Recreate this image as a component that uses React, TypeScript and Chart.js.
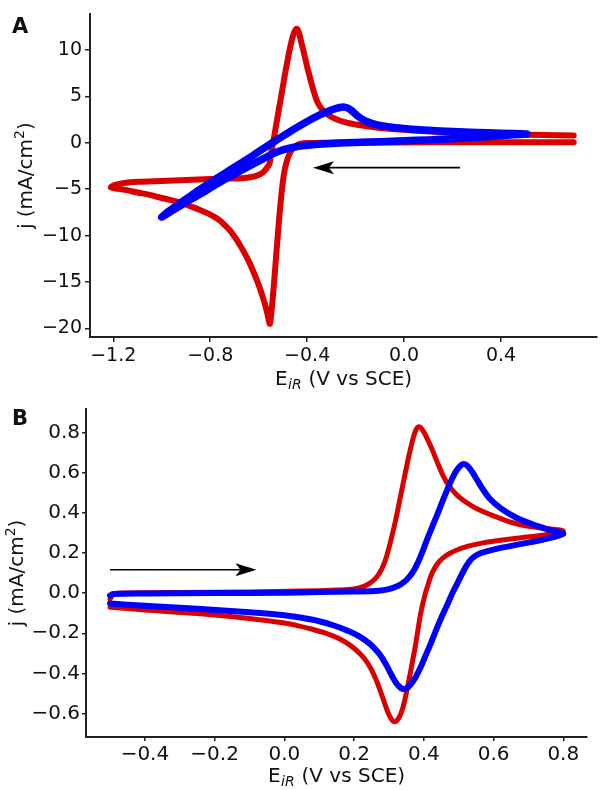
import React, { useEffect, useRef } from "react";
import { Chart, registerables } from "chart.js";

Chart.register(...registerables);

const FONT = '"DejaVu Sans", "Liberation Sans", sans-serif';
const RED = "rgb(218,0,0)";
const BLUE = "rgb(0,0,255)";
const INK = "#111";

// ---------------- Panel A data ----------------
const aRedE = [
  0.70, 0.55, 0.40, 0.20, 0.00, -0.20, -0.33, -0.40, -0.43, -0.445,
  -0.460, -0.472, -0.482, -0.490, -0.497, -0.503, -0.509, -0.515, -0.521, -0.527,
  -0.533, -0.539, -0.545, -0.550, -0.554, -0.558, -0.565, -0.575, -0.587, -0.600,
  -0.620, -0.640, -0.660, -0.680, -0.700, -0.720, -0.750, -0.775, -0.810, -0.845,
  -0.885, -0.925, -0.990, -1.050, -1.100, -1.145, -1.180, -1.210,
  -1.195, -1.160, -1.100, -1.000, -0.900, -0.800, -0.720, -0.650, -0.610, -0.583,
  -0.566, -0.556, -0.548, -0.540, -0.530, -0.520, -0.510, -0.500, -0.490, -0.480,
  -0.470, -0.460, -0.452, -0.445, -0.438, -0.431, -0.424, -0.416, -0.408, -0.399,
  -0.390, -0.380, -0.370, -0.360, -0.348, -0.330, -0.310, -0.280, -0.240, -0.200,
  -0.158, -0.100, 0.000, 0.107, 0.250, 0.450, 0.700,
];
const aRedJ = [
  0.07, 0.07, 0.06, 0.06, 0.05, 0.04, 0.02, -0.02, -0.12, -0.3,
  -0.65, -1.15, -1.8, -2.6, -3.6, -4.8, -6.3, -8.0, -9.9, -11.9,
  -13.9, -15.8, -17.6, -18.9, -19.5, -19.2, -18.3, -17.3, -16.3, -15.3,
  -14.0, -12.8, -11.8, -10.9, -10.1, -9.4, -8.6, -8.1, -7.6, -7.2,
  -6.8, -6.4, -6.0, -5.6, -5.35, -5.1, -4.95, -4.8,
  -4.55, -4.35, -4.2, -4.1, -4.0, -3.9, -3.85, -3.75, -3.55, -3.2,
  -2.7, -2.3, -1.1, 0.1, 1.6, 3.1, 4.6, 6.1, 7.6, 9.0,
  10.3, 11.4, 12.0, 12.3, 12.15, 11.6, 10.8, 10.0, 9.1, 8.1,
  7.2, 6.2, 5.3, 4.55, 3.95, 3.35, 2.95, 2.55, 2.2, 1.98,
  1.8, 1.6, 1.4, 1.23, 1.05, 0.9, 0.8,
];
const aBlueE = [
  0.506, 0.45, 0.38, 0.30, 0.20, 0.10, 0.00, -0.10, -0.20, -0.28,
  -0.35, -0.41, -0.46, -0.50, -0.54, -0.58, -0.62, -0.67, -0.72, -0.78,
  -0.84, -0.90, -0.95, -1.00,
  -0.97, -0.93, -0.88, -0.83, -0.78, -0.72, -0.65, -0.583, -0.52, -0.46,
  -0.40, -0.35, -0.31, -0.28, -0.26, -0.245, -0.232, -0.22, -0.207, -0.192,
  -0.175, -0.155, -0.13, -0.10, -0.05, 0.02, 0.10, 0.20, 0.30, 0.40,
  0.506,
];
const aBlueJ = [
  0.95, 0.86, 0.74, 0.6, 0.45, 0.32, 0.22, 0.13, 0.04, -0.05,
  -0.16, -0.3, -0.5, -0.75, -1.15, -1.7, -2.25, -2.95, -3.65, -4.55,
  -5.5, -6.4, -7.2, -8.0,
  -7.35, -6.6, -5.7, -4.8, -3.95, -2.95, -1.8, -0.65, 0.4, 1.38,
  2.3, 2.98, 3.43, 3.71, 3.83, 3.85, 3.75, 3.55, 3.25, 2.9,
  2.58, 2.3, 2.07, 1.88, 1.68, 1.5, 1.35, 1.22, 1.12, 1.04,
  0.95,
];
const aXTicks = [-1.2, -0.8, -0.4, 0.0, 0.4];
const aYTicks = [-20, -15, -10, -5, 0, 5, 10];
const aArrowE = [0.231, -0.376];
const aArrowJ = [-2.67, -2.67];

// ---------------- Panel B data ----------------
const bRedE = [
  -0.50, -0.49, -0.45, -0.30, -0.10, 0.05, 0.15, 0.20, 0.23, 0.25,
  0.265, 0.278, 0.290, 0.300, 0.310, 0.320, 0.330, 0.340, 0.350, 0.360,
  0.370, 0.378, 0.385, 0.393, 0.402, 0.412, 0.425, 0.440, 0.455, 0.470,
  0.490, 0.510, 0.535, 0.560, 0.600, 0.655, 0.720, 0.800,
  0.740, 0.680, 0.620, 0.570, 0.530, 0.500, 0.475, 0.455, 0.440, 0.428,
  0.418, 0.410, 0.403, 0.396, 0.389, 0.382, 0.375, 0.368, 0.361, 0.354,
  0.347, 0.339, 0.331, 0.323, 0.316, 0.309, 0.300, 0.290, 0.278, 0.264,
  0.248, 0.230, 0.210, 0.185, 0.155, 0.120, 0.080, 0.040, 0.000, -0.10,
  -0.25, -0.40, -0.50,
];
const bRedJ = [
  -0.03, -0.005, 0.0, 0.003, 0.006, 0.01, 0.015, 0.02, 0.035, 0.055,
  0.08, 0.115, 0.165, 0.225, 0.295, 0.37, 0.455, 0.54, 0.625, 0.705,
  0.775, 0.815, 0.828, 0.82, 0.795, 0.76, 0.71, 0.645, 0.585, 0.54,
  0.497, 0.466, 0.437, 0.413, 0.384, 0.35, 0.327, 0.31,
  0.288, 0.276, 0.263, 0.25, 0.235, 0.218, 0.198, 0.175, 0.148, 0.115,
  0.075, 0.03, -0.01, -0.06, -0.12, -0.195, -0.27, -0.335, -0.40, -0.46,
  -0.52, -0.575, -0.612, -0.634, -0.64, -0.632, -0.605, -0.56, -0.5, -0.435,
  -0.375, -0.327, -0.29, -0.255, -0.225, -0.2, -0.18, -0.163, -0.149, -0.126,
  -0.102, -0.084, -0.07,
];
const bBlueE = [
  -0.50, -0.49, -0.40, -0.20, 0.00, 0.10, 0.20, 0.27, 0.30, 0.325,
  0.345, 0.360, 0.373, 0.385, 0.397, 0.410, 0.424, 0.438, 0.452, 0.466,
  0.480, 0.493, 0.505, 0.515, 0.526, 0.538, 0.552, 0.568, 0.590, 0.620,
  0.660, 0.710, 0.760, 0.800,
  0.740, 0.680, 0.620, 0.580, 0.555, 0.537, 0.522, 0.508, 0.495, 0.482,
  0.468, 0.452, 0.436, 0.420, 0.404, 0.390, 0.376, 0.362, 0.350, 0.340,
  0.330, 0.318, 0.305, 0.290, 0.270, 0.245, 0.215, 0.180, 0.140, 0.100,
  0.050, 0.000, -0.10, -0.25, -0.40, -0.50,
];
const bBlueJ = [
  -0.012, -0.005, -0.002, 0.0, 0.002, 0.005, 0.008, 0.012, 0.02, 0.035,
  0.058, 0.085, 0.118, 0.16, 0.21, 0.27, 0.33, 0.388, 0.45, 0.51,
  0.565, 0.608, 0.634, 0.642, 0.632, 0.605, 0.565, 0.52, 0.468, 0.423,
  0.38, 0.343, 0.315, 0.295,
  0.265, 0.245, 0.225, 0.208, 0.193, 0.17, 0.135, 0.09, 0.045, 0.0,
  -0.055, -0.115, -0.18, -0.25, -0.315, -0.372, -0.42, -0.455, -0.474, -0.477,
  -0.466, -0.44, -0.4, -0.35, -0.298, -0.252, -0.215, -0.186, -0.16, -0.14,
  -0.123, -0.11, -0.095, -0.078, -0.063, -0.052,
];
const bXTicks = [-0.4, -0.2, 0.0, 0.2, 0.4, 0.6, 0.8];
const bYTicks = [-0.6, -0.4, -0.2, 0.0, 0.2, 0.4, 0.6, 0.8];
const bArrowE = [-0.5, -0.08];
const bArrowJ = [0.116, 0.116];

// ---------------- helpers ----------------
const pts = (E: number[], J: number[]) => E.map((e, i) => ({ x: e, y: J[i] }));
const fmt = (d: number) => (v: any) => {
  const s = Number(v).toFixed(d);
  return s.startsWith("-") ? "\u2212" + s.slice(1) : s;
};

type PanelCfg = {
  letter: string;
  letterX: number;
  letterY: number;
  height: number;
  padding: { top: number; right: number; left: number; bottom: number };
  yAxisW: number;
  xAxisH: number;
  xMin: number;
  xMax: number;
  yMin: number;
  yMax: number;
  xTicks: number[];
  yTicks: number[];
  xDec: number;
  yDec: number;
  tickSize: number;
  tickLen: number;
  tickPad: number;
  xTitleBase: number;
  yTitleX: number;
  arrowE: number[];
  arrowJ: number[];
  series: { E: number[]; J: number[]; color: string; width: number; order: number }[];
};

function decorPlugin(p: PanelCfg) {
  return {
    id: "decor" + p.letter,
    afterDraw(chart: any) {
      const { ctx, chartArea, scales } = chart;
      ctx.save();
      ctx.fillStyle = INK;
      ctx.textAlign = "left";
      ctx.textBaseline = "alphabetic";

      // panel letter
      ctx.font = `bold 21px ${FONT}`;
      ctx.fillText(p.letter, p.letterX, p.letterY);

      // x title: E_iR (V vs SCE)
      const big = `20px ${FONT}`;
      const sub = `italic 14px ${FONT}`;
      ctx.font = big;
      const wE = ctx.measureText("E").width;
      const wRest = ctx.measureText(" (V vs SCE)").width;
      ctx.font = sub;
      const wSub = ctx.measureText("iR").width;
      const total = wE + wSub + 1 + wRest;
      const cx = (chartArea.left + chartArea.right) / 2;
      const x0 = cx - total / 2;
      ctx.font = big;
      ctx.fillText("E", x0, p.xTitleBase);
      ctx.font = sub;
      ctx.fillText("iR", x0 + wE + 0.5, p.xTitleBase + 4);
      ctx.font = big;
      ctx.fillText(" (V vs SCE)", x0 + wE + wSub + 1, p.xTitleBase);

      // y title: j (mA/cm^2)
      ctx.save();
      const cy = (chartArea.top + chartArea.bottom) / 2;
      ctx.translate(p.yTitleX, cy);
      ctx.rotate(-Math.PI / 2);
      ctx.font = big;
      const w1 = ctx.measureText("j (mA/cm").width;
      const w3 = ctx.measureText(")").width;
      ctx.font = `14px ${FONT}`;
      const w2 = ctx.measureText("2").width;
      const t = w1 + w2 + w3;
      const y0 = -t / 2;
      ctx.font = big;
      ctx.fillText("j (mA/cm", y0, 0);
      ctx.font = `14px ${FONT}`;
      ctx.fillText("2", y0 + w1, -8);
      ctx.font = big;
      ctx.fillText(")", y0 + w1 + w2, 0);
      ctx.restore();

      // arrow
      const sx = scales.x, sy = scales.y;
      const x1 = sx.getPixelForValue(p.arrowE[0]);
      const y1 = sy.getPixelForValue(p.arrowJ[0]);
      const x2 = sx.getPixelForValue(p.arrowE[1]);
      const y2 = sy.getPixelForValue(p.arrowJ[1]);
      const ang = Math.atan2(y2 - y1, x2 - x1);
      const c = Math.cos(ang), s = Math.sin(ang);
      const L = 21, W = 6.5, N = 5;
      ctx.strokeStyle = "#000";
      ctx.fillStyle = "#000";
      ctx.lineWidth = 1.6;
      ctx.beginPath();
      ctx.moveTo(x1, y1);
      ctx.lineTo(x2 - c * (L - N), y2 - s * (L - N));
      ctx.stroke();
      const bx = x2 - c * L, by = y2 - s * L;
      ctx.beginPath();
      ctx.moveTo(x2, y2);
      ctx.lineTo(bx - s * W, by + c * W);
      ctx.lineTo(x2 - c * (L - N), y2 - s * (L - N));
      ctx.lineTo(bx + s * W, by - c * W);
      ctx.closePath();
      ctx.fill();

      ctx.restore();
    },
  };
}

function makeConfig(p: PanelCfg): any {
  const axisCommon = (dec: number, ticks: number[]) => ({
    type: "linear",
    afterBuildTicks: (sc: any) => {
      sc.ticks = ticks.map((v) => ({ value: v }));
    },
    ticks: {
      autoSkip: false,
      maxRotation: 0,
      minRotation: 0,
      padding: p.tickPad,
      color: INK,
      font: { family: FONT, size: p.tickSize },
      callback: fmt(dec),
    },
    grid: {
      drawOnChartArea: false,
      drawTicks: true,
      tickLength: p.tickLen,
      color: "#222",
      lineWidth: 1.5,
    },
    border: { display: true, color: "#222", width: 2 },
  });
  return {
    type: "scatter",
    data: {
      datasets: p.series.map((s) => ({
        data: pts(s.E, s.J),
        showLine: true,
        borderColor: s.color,
        backgroundColor: s.color,
        borderWidth: s.width,
        pointRadius: 0,
        pointHoverRadius: 0,
        tension: 0.3,
        borderJoinStyle: "round",
        borderCapStyle: "round",
        order: s.order,
      })),
    },
    options: {
      animation: false,
      responsive: false,
      maintainAspectRatio: false,
      devicePixelRatio: 1,
      events: [],
      layout: { padding: p.padding },
      plugins: {
        legend: { display: false },
        tooltip: { enabled: false },
        title: { display: false },
      },
      scales: {
        x: {
          ...axisCommon(p.xDec, p.xTicks),
          position: "bottom",
          min: p.xMin,
          max: p.xMax,
          afterFit: (sc: any) => {
            sc.height = p.xAxisH;
          },
        },
        y: {
          ...axisCommon(p.yDec, p.yTicks),
          position: "left",
          min: p.yMin,
          max: p.yMax,
          afterFit: (sc: any) => {
            sc.width = p.yAxisW;
          },
        },
      },
    },
    plugins: [decorPlugin(p)],
  };
}

const panelA: PanelCfg = {
  letter: "A",
  letterX: 12,
  letterY: 33,
  height: 395,
  padding: { top: 5, right: 3, left: 0, bottom: 0 },
  yAxisW: 90,
  xAxisH: 58,
  xMin: -1.296,
  xMax: 0.796,
  yMin: -20.92,
  yMax: 13.84,
  xTicks: aXTicks,
  yTicks: aYTicks,
  xDec: 1,
  yDec: 0,
  tickSize: 19,
  tickLen: 5,
  tickPad: 3,
  xTitleBase: 385,
  yTitleX: 31.5,
  arrowE: aArrowE,
  arrowJ: aArrowJ,
  series: [
    { E: aRedE, J: aRedJ, color: RED, width: 6, order: 2 },
    { E: aBlueE, J: aBlueJ, color: BLUE, width: 7.5, order: 1 },
  ],
};

const panelB: PanelCfg = {
  letter: "B",
  letterX: 12,
  letterY: 30,
  height: 395,
  padding: { top: 8, right: 13, left: 0, bottom: 0 },
  yAxisW: 86,
  xAxisH: 53,
  xMin: -0.569,
  xMax: 0.868,
  yMin: -0.716,
  yMax: 0.916,
  xTicks: bXTicks,
  yTicks: bYTicks,
  xDec: 1,
  yDec: 1,
  tickSize: 20,
  tickLen: 4,
  tickPad: 2,
  xTitleBase: 386.7,
  yTitleX: 22.5,
  arrowE: bArrowE,
  arrowJ: bArrowJ,
  series: [
    { E: bRedE, J: bRedJ, color: RED, width: 5, order: 2 },
    { E: bBlueE, J: bBlueJ, color: BLUE, width: 6, order: 1 },
  ],
};

function Panel({ cfg, top }: { cfg: PanelCfg; top: number }) {
  const ref = useRef<HTMLCanvasElement | null>(null);
  useEffect(() => {
    if (!ref.current) return;
    const chart = new Chart(ref.current, makeConfig(cfg));
    return () => chart.destroy();
  }, [cfg]);
  return (
    <canvas
      ref={ref}
      width={600}
      height={cfg.height}
      style={{ position: "absolute", left: 0, top, width: 600, height: cfg.height, display: "block" }}
    />
  );
}

export default function App() {
  return (
    <div style={{ position: "absolute", left: 0, top: 0, width: 600, height: 790, background: "#fff", overflow: "hidden" }}>
      <Panel cfg={panelA} top={0} />
      <Panel cfg={panelB} top={395} />
    </div>
  );
}
